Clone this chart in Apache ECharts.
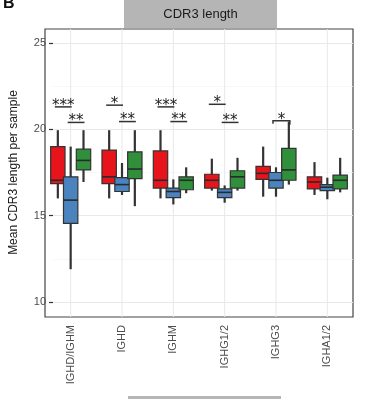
<!DOCTYPE html>
<html><head><meta charset="utf-8">
<script src="https://cdn.jsdelivr.net/npm/echarts@6/dist/echarts.min.js"></script>
<style>html,body{margin:0;padding:0;background:#fff}#c{width:368px;height:399px}</style>
</head><body><div id="c"></div>
<script>
// ---- data ----
const categories = ['IGHD/IGHM', 'IGHD', 'IGHM', 'IGHG1/2', 'IGHG3', 'IGHA1/2'];
// [min, q1, median, q3, max] per category
const redStats = [
  [16.0, 16.85, 17.05, 19.0, 19.95],
  [16.0, 16.85, 17.25, 18.8, 19.95],
  [16.0, 16.6, 17.05, 18.75, 19.95],
  [16.45, 16.6, 17.05, 17.4, 18.3],
  [16.1, 17.1, 17.45, 17.85, 19.0],
  [16.2, 16.55, 16.95, 17.25, 18.1]
];
const blueStats = [
  [11.9, 14.55, 15.9, 17.25, 19.0],
  [16.2, 16.4, 16.8, 17.2, 18.05],
  [15.65, 16.05, 16.4, 16.6, 17.1],
  [15.75, 16.05, 16.35, 16.55, 16.75],
  [16.1, 16.6, 17.05, 17.5, 17.8],
  [15.95, 16.45, 16.65, 16.8, 17.2]
];
const greenStats = [
  [16.95, 17.65, 18.2, 18.85, 19.95],
  [15.55, 17.15, 17.7, 18.7, 19.95],
  [16.3, 16.5, 17.05, 17.25, 17.8],
  [16.45, 16.6, 17.25, 17.6, 18.35],
  [16.8, 17.05, 17.65, 18.9, 20.45],
  [16.35, 16.55, 17.05, 17.35, 18.35]
];
// significance annotations
const sigCats   = [0, 0, 1, 1, 2, 2, 3, 3, 4];
const sigFrom   = [0, 1, 0, 1, 0, 1, 0, 1, 1];
const sigTo     = [1, 2, 1, 2, 1, 2, 1, 2, 2];
const sigY      = [21.3, 20.4, 21.4, 20.45, 21.3, 20.45, 21.45, 20.4, 20.5];
const sigLabels = ['***', '**', '*', '**', '***', '**', '*', '**', '*'];
const sigBracket = [0, 0, 0, 0, 0, 0, 0, 0, 1];
const yTickMin = 10, yTickMax = 25, yTickStep = 5;

// ---- layout ----
const groupColors = ['#e8141c', '#4a83bd', '#2f8f3a'];
const groupOffsets = [-0.25, 0, 0.25]; // fraction of band
const boxFrac = 0.28;
const FONT = 'Liberation Sans, Arial, sans-serif';
const panel = { left: 45, top: 29, width: 308, height: 288 };
const inner = { top: 43, height: 259 };
const ppu = inner.height / (yTickMax - yTickMin);
const yMin = yTickMin - (panel.top + panel.height - inner.top - inner.height) / ppu;
const yMax = yTickMax + (inner.top - panel.top) / ppu;

const groups = [redStats, blueStats, greenStats];
const boxData = [];
groups.forEach((g, gi) => g.forEach((s, ci) => boxData.push([ci, gi].concat(s))));
const sigData = sigCats.map((c, i) => [c, sigFrom[i], sigTo[i], sigY[i], sigBracket[i]]);

const chart = echarts.init(document.getElementById('c'), null, { renderer: 'canvas' });
chart.setOption({
  animation: false,
  backgroundColor: '#fff',
  textStyle: { fontFamily: FONT },
  grid: [
    { left: panel.left, top: panel.top, width: panel.width, height: panel.height,
      show: true, borderColor: '#444', borderWidth: 1.2, backgroundColor: 'transparent' },
    { left: panel.left, top: inner.top, width: panel.width, height: inner.height, show: false }
  ],
  xAxis: [
    { type: 'category', gridIndex: 0, data: categories, boundaryGap: true,
      axisLine: { show: false }, axisTick: { show: false }, splitLine: { show: false },
      axisLabel: { rotate: 90, margin: 8, fontSize: 11, color: '#4d4d4d', fontFamily: FONT } },
    { type: 'value', gridIndex: 1, show: false, min: 0, max: 1 }
  ],
  yAxis: [
    { type: 'value', gridIndex: 0, min: yMin, max: yMax, show: false },
    { type: 'value', gridIndex: 1, min: yTickMin, max: yTickMax, interval: yTickStep,
      axisLine: { show: false },
      axisTick: { show: true, length: 4, lineStyle: { color: '#333', width: 1.2 } },
      axisLabel: { fontSize: 11, color: '#4d4d4d', margin: 7, fontFamily: FONT },
      splitLine: { show: true, lineStyle: { color: '#e8e8e8', width: 1 } },
      minorTick: { show: false, splitNumber: 2 },
      minorSplitLine: { show: true, lineStyle: { color: '#f3f3f3', width: 0.7 } },
      name: 'Mean CDR3 length per sample', nameLocation: 'middle', nameGap: 33,
      nameTextStyle: { fontSize: 12, color: '#1a1a1a', fontFamily: FONT } }
  ],
  series: [
    { // vertical major grid lines at category centres
      type: 'custom', xAxisIndex: 0, yAxisIndex: 0, z: 1, silent: true,
      data: categories.map((c, i) => [i]),
      renderItem: function (params, api) {
        const p1 = api.coord([api.value(0), yMin]);
        const p2 = api.coord([api.value(0), yMax]);
        return { type: 'line', shape: { x1: p1[0], y1: p1[1], x2: p2[0], y2: p2[1] },
          style: { stroke: '#e8e8e8', lineWidth: 1 } };
      }
    },
    { // boxes
      type: 'custom', xAxisIndex: 0, yAxisIndex: 0, z: 3, silent: true,
      data: boxData,
      renderItem: function (params, api) {
        const ci = api.value(0), gi = api.value(1);
        const band = api.size([1, 0])[0];
        const cx = api.coord([ci, 0])[0] + groupOffsets[gi] * band;
        const w = band * boxFrac;
        const y = (v) => api.coord([ci, v])[1];
        const yMn = y(api.value(2)), yQ1 = y(api.value(3)), yMd = y(api.value(4)),
              yQ3 = y(api.value(5)), yMx = y(api.value(6));
        return { type: 'group', children: [
          { type: 'line', shape: { x1: cx, y1: yMx, x2: cx, y2: yMn },
            style: { stroke: '#333', lineWidth: 2.2 } },
          { type: 'rect', shape: { x: cx - w / 2, y: yQ3, width: w, height: yQ1 - yQ3 },
            style: { fill: groupColors[gi], stroke: '#333', lineWidth: 1.2 } },
          { type: 'line', shape: { x1: cx - w / 2, y1: yMd, x2: cx + w / 2, y2: yMd },
            style: { stroke: '#2a2a2a', lineWidth: 1.6 } }
        ] };
      }
    },
    { // significance annotations
      type: 'custom', xAxisIndex: 0, yAxisIndex: 0, z: 4, silent: true,
      data: sigData,
      renderItem: function (params, api) {
        const ci = api.value(0);
        const band = api.size([1, 0])[0];
        const c0 = api.coord([ci, 0])[0];
        const x1 = c0 + groupOffsets[api.value(1)] * band - 3;
        const x2 = c0 + groupOffsets[api.value(2)] * band + 1;
        const yy = api.coord([ci, api.value(3)])[1];
        const children = [];
        if (api.value(4)) {
          children.push({ type: 'polyline', shape: { points: [[x1, yy + 3], [x1, yy], [x2, yy], [x2, yy + 4]] },
            style: { stroke: '#333', lineWidth: 1.5, fill: null } });
        } else {
          children.push({ type: 'line', shape: { x1: x1, y1: yy, x2: x2, y2: yy },
            style: { stroke: '#333', lineWidth: 1.5 } });
        }
        children.push({ type: 'text', x: (x1 + x2) / 2, y: yy - 1,
          style: { text: sigLabels[params.dataIndex], fill: '#222', font: '15px DejaVu Sans',
            align: 'center', verticalAlign: 'middle' } });
        return { type: 'group', children: children };
      }
    }
  ],
  graphic: [
    { type: 'rect', shape: { x: 124, y: 0, width: 153, height: 28 }, style: { fill: '#b5b5b5' } },
    { type: 'text', x: 200.5, y: 14, style: { text: 'CDR3 length', font: '13px ' + FONT, fill: '#1a1a1a',
      align: 'center', verticalAlign: 'middle' } },
    { type: 'rect', shape: { x: 128, y: 396, width: 153, height: 3 }, style: { fill: '#b5b5b5' } },
    { type: 'text', x: 3, y: 4, style: { text: 'B', font: 'bold 16px ' + FONT, fill: '#111',
      align: 'left', verticalAlign: 'middle' } }
  ]
});
</script></body></html>
